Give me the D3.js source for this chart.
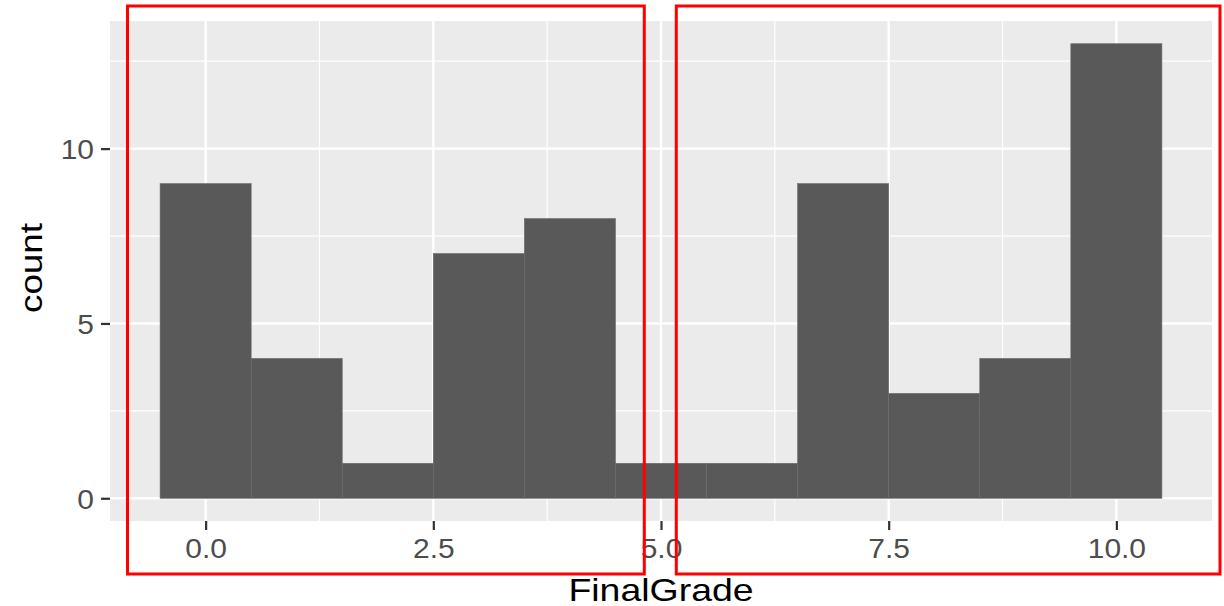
<!DOCTYPE html>
<html><head><meta charset="utf-8">
<script src="https://cdn.jsdelivr.net/npm/d3@7"></script>
<style>body{margin:0;background:#fff}svg{display:block}text{font-family:"Liberation Sans",Arial,sans-serif}</style>
</head><body>
<svg id="c" width="1224" height="606"></svg>
<script>
const binCenters = [0,1,2,3,4,5,6,7,8,9,10];
const counts = [9,4,1,7,8,1,1,9,3,4,13];
const xTicks = [0,2.5,5,7.5,10];
const xTickLabels = ["0.0","2.5","5.0","7.5","10.0"];
const xMinor = [1.25,3.75,6.25,8.75];
const yTicks = [0,5,10];
const yMinor = [2.5,7.5,12.5];
const binWidth = 1;

const svg = d3.select("#c");
const L=110, R=1212, T=21, B=521;
const x = d3.scaleLinear().domain([-1.05,11.05]).range([L,R]);
const y = d3.scaleLinear().domain([-0.65,13.65]).range([B,T]);

function stretch(sel, k){
  sel.each(function(){
    const w = this.getComputedTextLength();
    d3.select(this).attr("textLength", w*k).attr("lengthAdjust","spacingAndGlyphs");
  });
}

svg.append("rect").attr("x",L).attr("y",T).attr("width",R-L).attr("height",B-T).attr("fill","#EBEBEB");
const g = svg.append("g");
g.selectAll(".xmin").data(xMinor).join("line").attr("x1",d=>x(d)).attr("x2",d=>x(d)).attr("y1",T).attr("y2",B).attr("stroke","#fff").attr("stroke-width",1.2);
g.selectAll(".ymin").data(yMinor).join("line").attr("y1",d=>y(d)).attr("y2",d=>y(d)).attr("x1",L).attr("x2",R).attr("stroke","#fff").attr("stroke-width",1.2);
g.selectAll(".xmaj").data(xTicks).join("line").attr("x1",d=>x(d)).attr("x2",d=>x(d)).attr("y1",T).attr("y2",B).attr("stroke","#fff").attr("stroke-width",2.4);
g.selectAll(".ymaj").data(yTicks).join("line").attr("y1",d=>y(d)).attr("y2",d=>y(d)).attr("x1",L).attr("x2",R).attr("stroke","#fff").attr("stroke-width",2.4);

svg.append("g").selectAll("rect").data(binCenters).join("rect")
  .attr("x",d=>x(d-binWidth/2)).attr("width",d=>x(d+binWidth/2)-x(d-binWidth/2))
  .attr("y",(d,i)=>y(counts[i])).attr("height",(d,i)=>y(0)-y(counts[i]))
  .attr("fill","#595959").attr("stroke","#6b6b6b").attr("stroke-width",0.6);

const xa = svg.append("g").attr("transform",`translate(0,${B})`)
  .call(d3.axisBottom(x).tickValues(xTicks).tickFormat((d,i)=>xTickLabels[i]).tickSize(9).tickPadding(8));
const ya = svg.append("g").attr("transform",`translate(${L},0)`)
  .call(d3.axisLeft(y).tickValues(yTicks).tickSize(9).tickPadding(7));
[xa,ya].forEach(a=>{
  a.select(".domain").remove();
  a.selectAll(".tick line").attr("stroke","#333").attr("stroke-width",2.2);
  a.selectAll(".tick text").attr("fill","#4D4D4D").style("font-size","28px");
});
xa.selectAll(".tick text").attr("y",37).attr("dy",null);
ya.selectAll(".tick text").attr("dy","0.36em");
stretch(xa.selectAll(".tick text"),1.07);
stretch(ya.selectAll(".tick text"),1.07);

const xt = svg.append("text").attr("x",(L+R)/2).attr("y",601).attr("text-anchor","middle").style("font-size","32px").attr("fill","#000").text("FinalGrade");
stretch(xt,1.17);
const yt = svg.append("text").attr("transform",`translate(42,${268}) rotate(-90)`).attr("text-anchor","middle").style("font-size","32px").attr("fill","#000").text("count");
stretch(yt,1.15);

svg.append("rect").attr("x",127.5).attr("y",6).attr("width",644.3-127.5).attr("height",574-6).attr("fill","none").attr("stroke","#FF0000").attr("stroke-width",3);
svg.append("rect").attr("x",676.3).attr("y",6).attr("width",1220-676.3).attr("height",574-6).attr("fill","none").attr("stroke","#FF0000").attr("stroke-width",3);
</script>
</body></html>
